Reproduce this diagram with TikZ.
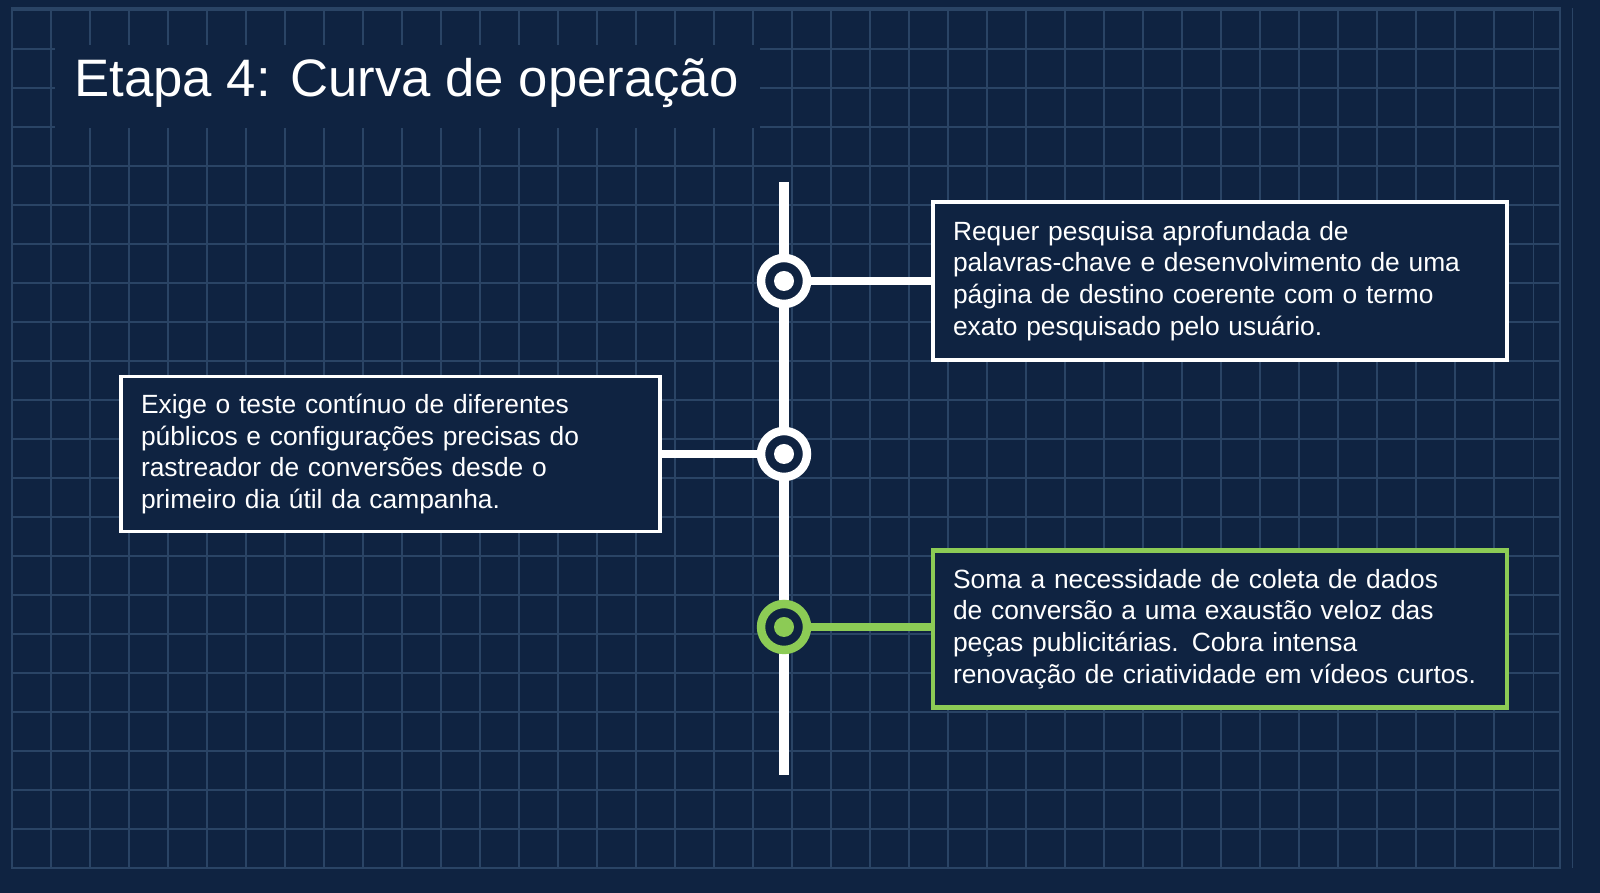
\documentclass[tikz,border=0pt]{standalone}
\usepackage{fontspec}
\setmainfont{Liberation Sans}
\definecolor{bgnavy}{HTML}{0F2341}
\definecolor{gridblue}{HTML}{2A4465}
\definecolor{leafgreen}{HTML}{8CCB55}
\begin{document}
\begin{tikzpicture}[every node/.style={white},
	note/.style={draw=white, line width=0.9pt, fill=bgnavy, align=left, text width=#1,
		inner xsep=0.2cm, inner ysep=0.18cm, font=\fontsize{7.5}{9.0}\selectfont},
	stop/.style={circle, draw=white, line width=2.4pt, fill=bgnavy, minimum size=0.46cm, inner sep=0pt},
	link/.style={white, line width=2.3pt}]
	\fill[bgnavy] (0,0) rectangle (16,8.93);
	\useasboundingbox (0,0) rectangle (16,8.93);

	% grid
	\foreach \x in {0.12,0.51,...,15.9}
		\draw[gridblue, line width=0.3pt] (\x,0.25) -- (\x,8.85);
	\foreach \y in {0.25,0.64,...,8.9}
		\draw[gridblue, line width=0.3pt] (0.12,\y) -- (15.6,\y);
	\draw[gridblue, line width=0.5pt] (0.12,0.25) rectangle (15.6,8.85);

	% title
	\fill[bgnavy] (0.55,7.65) rectangle (7.6,8.48);
	\node[anchor=west, font=\fontsize{15}{18}\selectfont] (title) at (0.62,8.1) {Etapa 4: Curva de operação};

	% timeline
	\coordinate (top) at (7.84,7.11);
	\coordinate (bot) at (7.84,1.18);
	\draw[white, line width=2.9pt] (top) -- (bot);

	\node[note=5.34cm, minimum height=1.58cm] (b1) at (12.2,6.12) {Requer pesquisa aprofundada de\\ palavras-chave e desenvolvimento de uma\\ página de destino coerente com o termo\\ exato pesquisado pelo usuário.};
	\node[note=4.99cm, minimum height=1.54cm] (b2) at (3.905,4.39) {Exige o teste contínuo de diferentes\\ públicos e configurações precisas do\\ rastreador de conversões desde o\\ primeiro dia útil da campanha.};
	\node[note=5.34cm, minimum height=1.57cm, draw=leafgreen, line width=1.3pt] (b3) at (12.2,2.64) {Soma a necessidade de coleta de dados\\ de conversão a uma exaustão veloz das\\ peças publicitárias. Cobra intensa\\ renovação de criatividade em vídeos curtos.};

	\node[stop] (s1) at (7.84,6.12) {};
	\node[stop] (s2) at (7.84,4.39) {};
	\node[stop, draw=leafgreen] (s3) at (7.84,2.66) {};
	\fill[white] (s1) circle (0.1);
	\fill[white] (s2) circle (0.1);
	\fill[leafgreen] (s3) circle (0.1);

	\draw[link] (s1) -- (b1.west |- s1);
	\draw[link] (s2) -- (b2.east |- s2);
	\draw[link, leafgreen] (s3) -- (b3.west |- s3);
\end{tikzpicture}
\end{document}
